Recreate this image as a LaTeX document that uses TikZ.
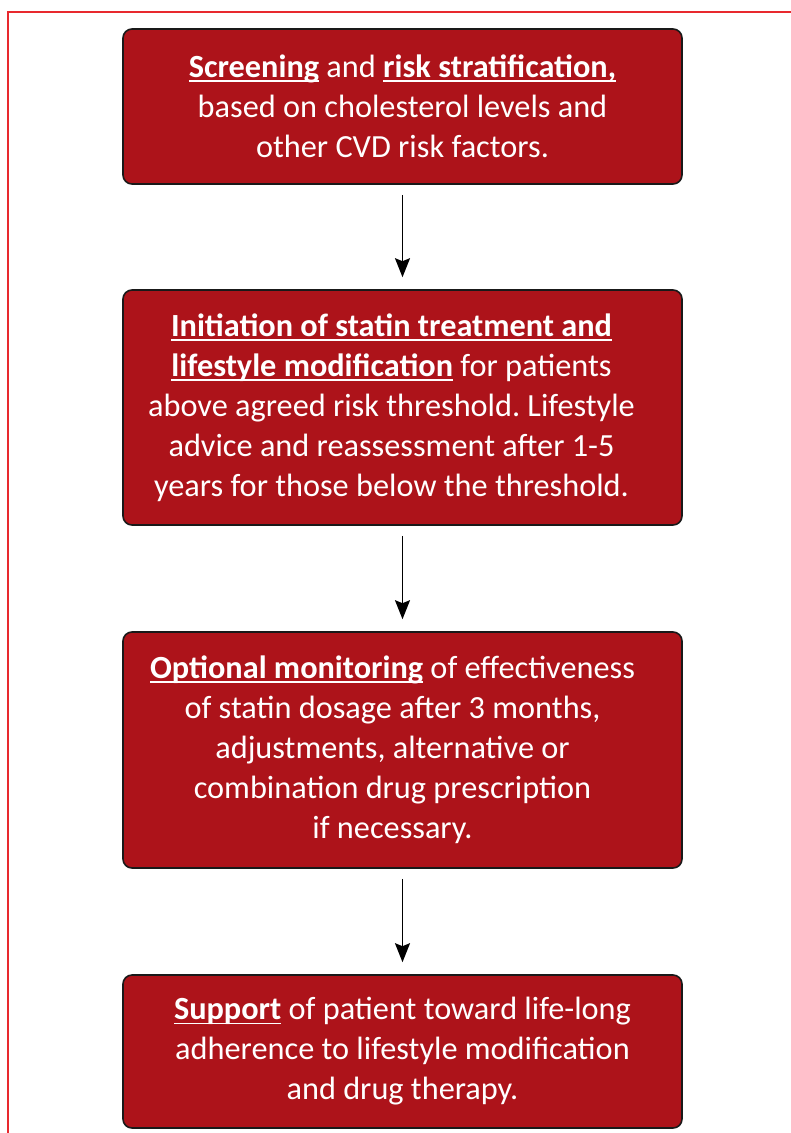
\documentclass[tikz,border=0pt]{standalone}
\usepackage{fontspec}
\setmainfont{Carlito}
\usetikzlibrary{arrows.meta}
\definecolor{boxred}{HTML}{AD131A}
\definecolor{framered}{HTML}{E8292E}
\frenchspacing
\newsavebox{\keybox}
\newcommand{\key}[1]{\sbox{\keybox}{\bfseries #1}%
    \rlap{\rule[-4.5pt]{\wd\keybox}{1.9pt}}\usebox{\keybox}}

\tikzset{
    stepbox/.style = {draw=black!90, line width=1.6pt, fill=boxred, rounded corners=9pt,
        minimum width=559pt, inner sep=0pt},
    steptext/.style = {text=white, align=center, inner sep=0pt,
        font=\fontsize{32.3}{40}\selectfont},
    flow/.style = {draw=black, line width=1.5pt, -{Stealth[length=19pt,width=15pt,inset=3pt]},
        shorten <=10pt, shorten >=12pt}
}

\begin{document}
\begin{tikzpicture}[x=1pt, y=-1pt]
    \useasboundingbox (0,0) rectangle (791,1133);
    \draw[framered, line width=1.6pt] (8,1133) -- (8,12) -- (791,12);

    \node[stepbox, minimum height=155pt] (screen) at (402.5,106.5) {};
    \node[steptext] (screentext) at (screen.center)
        {\key{Screening} and \key{risk stratification,}\\
         based on cholesterol levels and\\
         other CVD risk factors.};

    \node[stepbox, minimum height=235pt] (start) at (402.5,407.5) {};
    \node[steptext] (starttext) at ([xshift=-11pt]start.center)
        {\key{Initiation of statin treatment and}\\
         \key{lifestyle modification} for patients\\
         above agreed risk threshold. Lifestyle\\
         advice and reassessment after 1-5\\
         years for those below the threshold.};

    \node[stepbox, minimum height=236pt] (monitor) at (402.5,750) {};
    \node[steptext] (monitortext) at ([xshift=-10pt]monitor.center)
        {\key{Optional monitoring} of effectiveness\\
         of statin dosage after 3 months,\\
         adjustments, alternative or\\
         combination drug prescription\\
         if necessary.};

    \node[stepbox, minimum height=153pt] (support) at (402.5,1051.5) {};
    \node[steptext] (supporttext) at (support.center)
        {\key{Support} of patient toward life-long\\
         adherence to lifestyle modification\\
         and drug therapy.};

    \draw[flow] (screen) -- (start);
    \draw[flow] (start) -- (monitor);
    \draw[flow] (monitor) -- (support);
\end{tikzpicture}
\end{document}
